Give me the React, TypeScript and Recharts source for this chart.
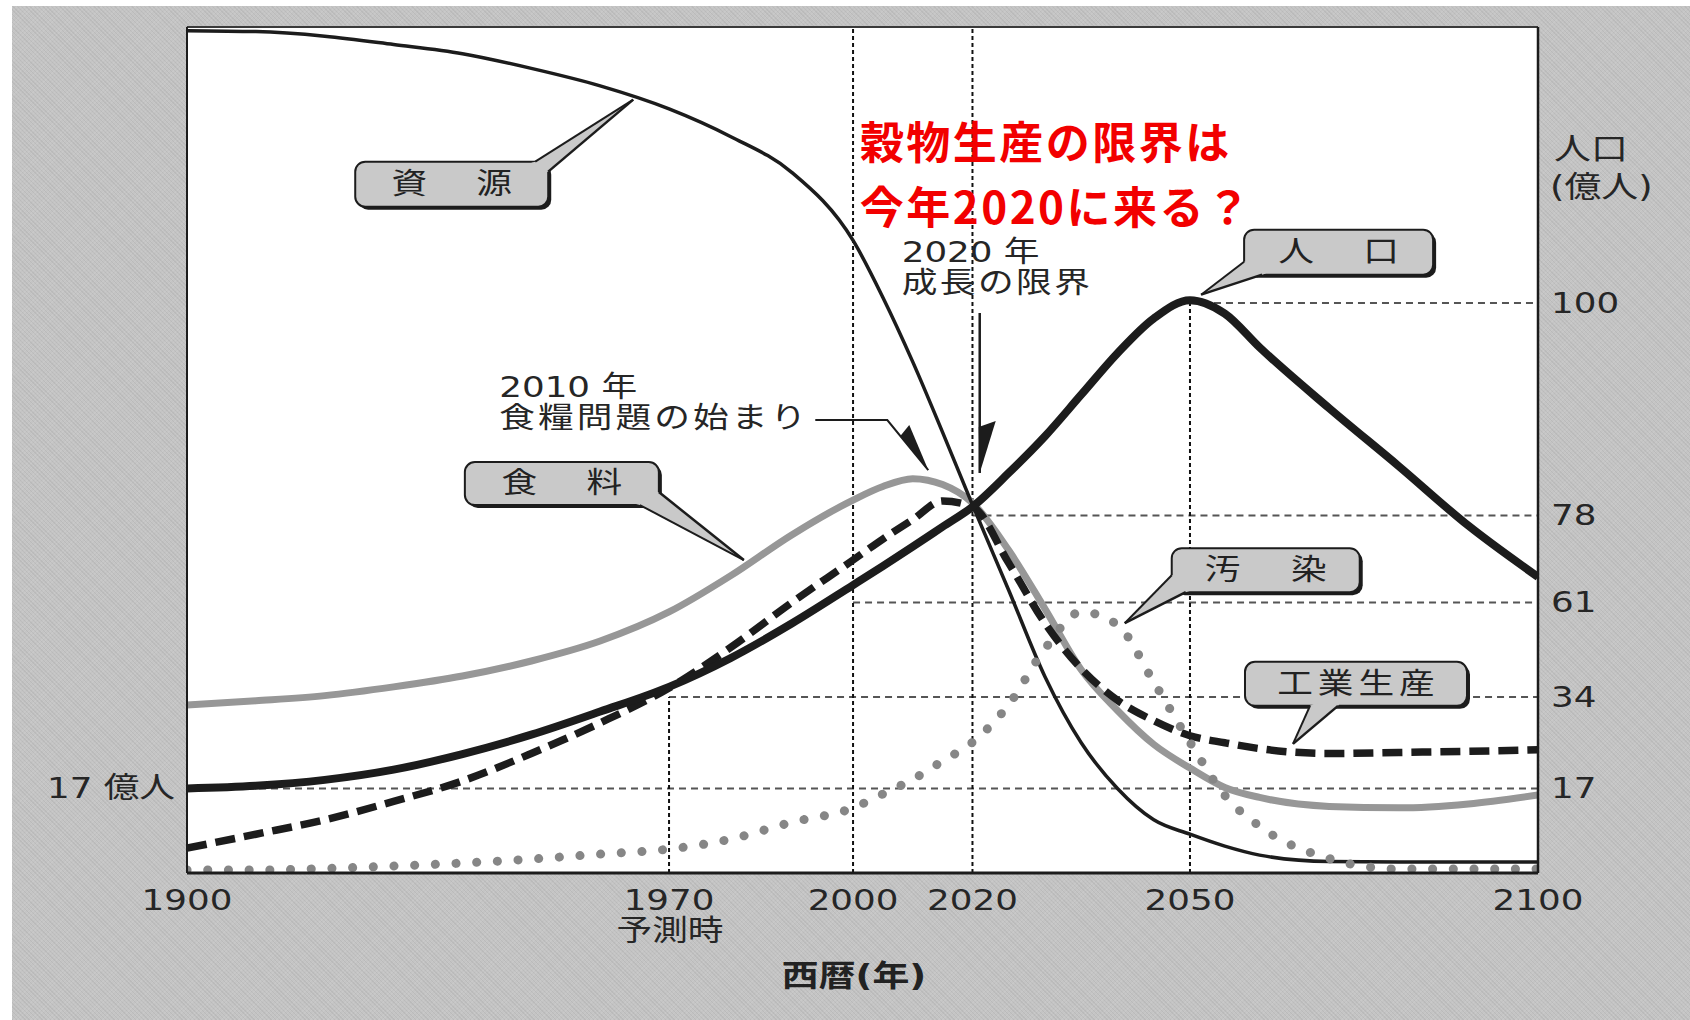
import React from 'react';
import { LineChart, Line, XAxis, YAxis, CartesianGrid, ReferenceLine, ReferenceDot } from 'recharts';

// ---------- data ----------
const years = [1900, 1910, 1920, 1930, 1940, 1950, 1960, 1970, 1980, 1990, 2000, 2005, 2010, 2015, 2020, 2025, 2030, 2035, 2040, 2045, 2050, 2055, 2060, 2070, 2080, 2090, 2100];
const population = [17, 17.5, 18.6, 20.5, 23.4, 27.0, 31.3, 36.9, 45.1, 55.0, 64.4, 68.1, 71.9, 75.8, 78.9, 82.4, 86.2, 90.5, 94.8, 98.4, 100.3, 98.9, 95.4, 89.1, 83.1, 76.0, 66.0];
const resources = [129.6, 129.5, 129.0, 128.1, 127.1, 125.5, 123.6, 121.1, 118.1, 114.2, 106.8, 100.6, 93.9, 86.6, 79.1, 63.4, 39.8, 25.5, 17.0, 10.7, 7.8, 5.4, 3.6, 2.3, 2.2, 2.2, 2.2];
const food = [32.5, 33.3, 34.4, 36.9, 40.0, 44.3, 50.0, 58.3, 66.2, 74.2, 79.6, 81.0, 81.8, 81.2, 79.3, 71.2, 59.2, 41.8, 31.5, 25.2, 20.8, 17.2, 15.2, 13.4, 13.1, 13.9, 15.7];
const industry = [5.0, 7.8, 10.7, 14.4, 18.4, 23.5, 29.2, 36.6, 48.1, 61.0, 69.3, 73.4, 77.2, 79.5, 78.9, 68.7, 55.1, 42.1, 33.4, 29.6, 26.8, 25.5, 24.4, 23.5, 23.7, 23.9, 24.2];
const pollution = [0.6, 0.6, 0.9, 1.4, 2.0, 2.8, 3.8, 4.8, 6.8, 10.2, 13.1, 15.9, 18.7, 22.1, 25.6, 32.6, 47.8, 58.3, 54.6, 38.3, 25.6, 15.6, 9.4, 2.9, 0.8, 0.8, 0.8];

const xTicks = [1900, 1970, 2000, 2020, 2050, 2100];
const leftTicks = [17];
const rightTicks = [17, 34, 61, 78, 100];

// hand-drawn, non-uniform axes: breakpoints of the original drawing
const xBreakYears = [1900, 1970, 2000, 2020, 2050, 2100];
const xBreakShare = [0, 0.3568, 0.493, 0.5814, 0.7424, 1];
const yBreakValues = [0, 17, 34, 61, 78, 100, 130];
const yBreakShare = [0, 0.0999, 0.208, 0.3197, 0.4226, 0.6738, 1];

const levelGuides = [
  { value: 17, from: 1900 },
  { value: 34, from: 1970 },
  { value: 61, from: 2000 },
  { value: 78, from: 2020 },
  { value: 100, from: 2050 },
];
const yearGuides = [
  { year: 1970, to: 34 },
  { year: 2000, to: 130 },
  { year: 2020, to: 130 },
  { year: 2050, to: 100 },
];

const data = years.map((year, i) => ({
  year,
  population: population[i],
  resources: resources[i],
  food: food[i],
  industry: industry[i],
  pollution: pollution[i],
}));

// ---------- piecewise scale (d3-like interface) ----------
function piecewise(dom: number[], share: number[]): any {
  let d: any[] = [dom[0], dom[dom.length - 1]];
  let r: number[] = [0, 1];
  const toShare = (v: number) => {
    const n = dom.length;
    let i = 0;
    if (v <= dom[0]) i = 0;
    else if (v >= dom[n - 1]) i = n - 2;
    else {
      while (i < n - 2 && v > dom[i + 1]) i++;
    }
    const t = (v - dom[i]) / (dom[i + 1] - dom[i]);
    return share[i] + t * (share[i + 1] - share[i]);
  };
  const s: any = (v: any) => {
    const num = Number(v);
    if (v === null || v === undefined || !isFinite(num)) return undefined;
    return r[0] + toShare(num) * (r[1] - r[0]);
  };
  s.domain = (x?: any) => {
    if (x === undefined) return d.slice();
    d = x.slice();
    return s;
  };
  s.range = (x?: any) => {
    if (x === undefined) return r.slice();
    r = x.slice();
    return s;
  };
  s.copy = () => piecewise(dom, share).domain(d).range(r);
  s.ticks = () => dom.slice();
  s.tickFormat = () => (v: any) => String(v);
  s.clamp = () => s;
  s.nice = () => s;
  s.unknown = () => s;
  s.invert = (px: number) => {
    const f = (px - r[0]) / (r[1] - r[0]);
    let i = 0;
    while (i < share.length - 2 && f > share[i + 1]) i++;
    const t = (f - share[i]) / (share[i + 1] - share[i]);
    return dom[i] + t * (dom[i + 1] - dom[i]);
  };
  return s;
}

const xScale = piecewise(xBreakYears, xBreakShare);
const yScaleL = piecewise(yBreakValues, yBreakShare);
const yScaleR = piecewise(yBreakValues, yBreakShare);

// ---------- styling helpers ----------
const FONT = "'DejaVu Sans', 'Noto Sans CJK JP', sans-serif";
const INK = '#1c1c1c';
const BOX = '#c9c9c9';
const SX = 1.23;

function T({ x, y, children, size = 29, anchor = 'start', sx = SX, weight = 400, fill = '#262626', family = FONT, ls = 0 }: any) {
  return (
    <text
      transform={`translate(${x},${y}) scale(${sx},1)`}
      fontSize={size}
      textAnchor={anchor}
      dominantBaseline="central"
      fontFamily={family}
      fontWeight={weight}
      fill={fill}
      letterSpacing={ls}
    >
      {children}
    </text>
  );
}

const callouts = [
  { text: '資　源', year: 1964.8, value: 122.1, box: [-278, 62, 193, 45], wedge: [[-98, 62], [-85, 72]], ls: 5.5 },
  { text: '食　料', year: 1982.2, value: 69.3, box: [-279, -98, 194, 43], wedge: [[-104, -55], [-85, -68]], ls: 5.5 },
  { text: '人　口', year: 2051.6, value: 100.9, box: [43, -65, 189, 45], wedge: [[43, -33], [61, -20]], ls: 5.5 },
  { text: '汚　染', year: 2041.0, value: 55.1, box: [47, -75, 188, 44], wedge: [[47, -48], [61, -31]], ls: 6 },
  { text: '工業生産', year: 2064.8, value: 25.3, box: [-48, -82, 222, 44], wedge: [[17, -38], [45, -38]], ls: 4 },
];

function Callout({ cx, cy, cfg }: any) {
  if (cx == null || cy == null) return null;
  const [bx, by, w, h] = cfg.box;
  const x = cx + bx;
  const y = cy + by;
  const ctr = [x + w / 2, y + h / 2];
  const A = [cx + cfg.wedge[0][0], cy + cfg.wedge[0][1]];
  const B = [cx + cfg.wedge[1][0], cy + cfg.wedge[1][1]];
  const inward = (p: number[]) => {
    const dx = ctr[0] - p[0];
    const dy = ctr[1] - p[1];
    const L = Math.hypot(dx, dy) || 1;
    return [p[0] + (dx / L) * 4, p[1] + (dy / L) * 4];
  };
  const Ai = inward(A);
  const Bi = inward(B);
  const pts = [[cx, cy], A, Ai, Bi, B].map((p) => p.join(',')).join(' ');
  return (
    <g>
      <rect x={x + 3} y={y + 3} width={w} height={h} rx={10} fill={INK} />
      <rect x={x} y={y} width={w} height={h} rx={10} fill={BOX} stroke={INK} strokeWidth={2} />
      <polygon points={pts} fill={BOX} />
      <line x1={cx} y1={cy} x2={A[0]} y2={A[1]} stroke={INK} strokeWidth={2} />
      <line x1={cx} y1={cy} x2={B[0]} y2={B[1]} stroke={INK} strokeWidth={2.5} />
      <T x={ctr[0] + (cfg.ls * SX) / 2} y={ctr[1]} anchor="middle" ls={cfg.ls} fill="#222">
        {cfg.text}
      </T>
    </g>
  );
}

function FoodNote({ cx, cy }: any) {
  if (cx == null) return null;
  return (
    <g>
      <T x={cx - 429} y={cy - 83}>2010 年</T>
      <T x={cx - 429} y={cy - 52} ls={2.5}>食糧問題の始まり</T>
      <polyline points={`${cx - 113},${cy - 50} ${cx - 41},${cy - 50} ${cx},${cy}`} fill="none" stroke={INK} strokeWidth={2} />
      <polygon points={`${cx},${cy} ${cx - 28},${cy - 34} ${cx - 19},${cy - 45}`} fill={INK} />
    </g>
  );
}

function GrowthNote({ cx, cy }: any) {
  if (cx == null) return null;
  return (
    <g>
      <T x={cx - 78} y={cy - 221}>2020 年</T>
      <T x={cx - 78} y={cy - 190} ls={2}>成長の限界</T>
      <line x1={cx} y1={cy - 160} x2={cx} y2={cy} stroke={INK} strokeWidth={2.5} />
      <polygon points={`${cx},${cy} ${cx - 1},${cy - 46} ${cx + 16},${cy - 52}`} fill={INK} />
      <text x={cx - 120} y={cy - 333} fontSize={44} fontWeight={700} fill="#f20000" fontFamily="'Noto Sans CJK JP', sans-serif" dominantBaseline="central" letterSpacing={2.5}>
        穀物生産の限界は
      </text>
      <text x={cx - 120} y={cy - 268} fontSize={44} fontWeight={700} fill="#f20000" fontFamily="'Noto Sans CJK JP', sans-serif" dominantBaseline="central" letterSpacing={2.5}>
        今年2020に来る？
      </text>
    </g>
  );
}

function RightTitle({ cx, cy }: any) {
  if (cx == null) return null;
  return (
    <g>
      <T x={cx + 16} y={cy} size={30}>人口</T>
      <T x={cx + 12} y={cy + 38} size={30}>(億人)</T>
    </g>
  );
}

function XTitle({ cx, cy }: any) {
  if (cx == null) return null;
  return (
    <T x={cx + 1} y={cy + 103} size={30} weight={700} anchor="middle" fill="#222">
      西暦(年)
    </T>
  );
}

function XTick({ x, y, payload }: any) {
  return (
    <g>
      <T x={x} y={y + 27} anchor="middle">{payload.value}</T>
      {payload.value === 1970 ? (
        <T x={x + 1} y={y + 58} anchor="middle">予測時</T>
      ) : null}
    </g>
  );
}

function LeftTick({ x, y, payload }: any) {
  return <T x={x - 12} y={y} anchor="end">{`${payload.value} 億人`}</T>;
}

function RightTick({ x, y, payload }: any) {
  return <T x={x + 13} y={y}>{payload.value}</T>;
}

const bgPattern =
  'repeating-linear-gradient(45deg, rgba(0,0,0,0.05) 0px, rgba(0,0,0,0.05) 1px, rgba(0,0,0,0) 1px, rgba(0,0,0,0) 3px), repeating-linear-gradient(-45deg, rgba(255,255,255,0.08) 0px, rgba(255,255,255,0.08) 1px, rgba(255,255,255,0) 1px, rgba(255,255,255,0) 3px)';

export default function App() {
  return (
    <div style={{ position: 'absolute', left: 0, top: 0, width: 1690, height: 1020, background: '#fff', overflow: 'hidden' }}>
      <div style={{ position: 'absolute', left: 12, top: 6, right: 0, bottom: 0, backgroundColor: '#c4c4c4', backgroundImage: bgPattern }} />
      <div style={{ position: 'absolute', left: 0, top: 0 }}>
        <LineChart width={1690} height={1020} data={data} margin={{ top: 27, right: 52, bottom: 87, left: 127 }}>
          <CartesianGrid yAxisId="L" fill="#ffffff" stroke="none" horizontal={false} vertical={false} />
          <XAxis
            dataKey="year"
            type="number"
            domain={[1900, 2100]}
            allowDataOverflow
            scale={xScale}
            ticks={xTicks}
            tick={<XTick />}
            tickLine={false}
            tickSize={0}
            tickMargin={0}
            height={60}
            axisLine={{ stroke: INK, strokeWidth: 3 }}
            interval={0}
          />
          <YAxis
            yAxisId="L"
            type="number"
            domain={[0, 130]}
            allowDataOverflow
            scale={yScaleL}
            ticks={leftTicks}
            tick={<LeftTick />}
            tickLine={false}
            tickSize={0}
            tickMargin={0}
            width={60}
            axisLine={{ stroke: INK, strokeWidth: 2 }}
            interval={0}
          />
          <YAxis
            yAxisId="R"
            orientation="right"
            type="number"
            domain={[0, 130]}
            allowDataOverflow
            scale={yScaleR}
            ticks={rightTicks}
            tick={<RightTick />}
            tickLine={false}
            tickSize={0}
            tickMargin={0}
            width={100}
            axisLine={{ stroke: INK, strokeWidth: 2.5 }}
            interval={0}
          />

          {levelGuides.map((g) => (
            <ReferenceLine
              key={'lv' + g.value}
              yAxisId="L"
              segment={[{ x: g.from, y: g.value }, { x: 2100, y: g.value }]}
              stroke="#555"
              strokeWidth={2}
              strokeDasharray="7 5"
            />
          ))}
          {yearGuides.map((g) => (
            <ReferenceLine
              key={'yr' + g.year}
              yAxisId="L"
              segment={[{ x: g.year, y: 0 }, { x: g.year, y: g.to }]}
              stroke="#111"
              strokeWidth={2}
              strokeDasharray="4 3"
            />
          ))}
          <ReferenceLine yAxisId="L" y={130} stroke="#3a3a3a" strokeWidth={2} />

          <Line yAxisId="L" dataKey="food" type="monotone" stroke="#979797" strokeWidth={7} dot={false} activeDot={false} isAnimationActive={false} />
          <Line yAxisId="L" dataKey="industry" type="monotone" stroke={INK} strokeWidth={7.5} strokeDasharray="20 9" dot={false} activeDot={false} isAnimationActive={false} />
          <Line yAxisId="L" dataKey="resources" type="monotone" stroke={INK} strokeWidth={3.5} dot={false} activeDot={false} isAnimationActive={false} />
          <Line yAxisId="L" dataKey="population" type="monotone" stroke={INK} strokeWidth={8} dot={false} activeDot={false} isAnimationActive={false} />
          <Line yAxisId="L" dataKey="pollution" type="monotone" stroke="#868686" strokeWidth={9} strokeDasharray="0.1 20.6" strokeLinecap="round" dot={false} activeDot={false} isAnimationActive={false} />

          {callouts.map((c) => (
            <ReferenceDot
              key={c.text}
              yAxisId="L"
              x={c.year}
              y={c.value}
              r={0}
              ifOverflow="visible"
              shape={(p: any) => <Callout cx={p.cx} cy={p.cy} cfg={c} />}
            />
          ))}
          <ReferenceDot yAxisId="L" x={2012.6} y={82.7} r={0} ifOverflow="visible" shape={(p: any) => <FoodNote cx={p.cx} cy={p.cy} />} />
          <ReferenceDot yAxisId="L" x={2021} y={82.4} r={0} ifOverflow="visible" shape={(p: any) => <GrowthNote cx={p.cx} cy={p.cy} />} />
          <ReferenceDot yAxisId="L" x={2100} y={116.8} r={0} ifOverflow="visible" shape={(p: any) => <RightTitle cx={p.cx} cy={p.cy} />} />
          <ReferenceDot yAxisId="L" x={2000} y={0} r={0} ifOverflow="visible" shape={(p: any) => <XTitle cx={p.cx} cy={p.cy} />} />
        </LineChart>
      </div>
    </div>
  );
}
